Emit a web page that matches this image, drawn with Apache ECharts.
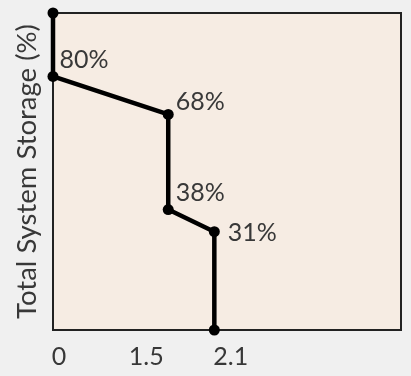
<!DOCTYPE html>
<html><head><meta charset="utf-8">
<script src="https://cdn.jsdelivr.net/npm/echarts@6/dist/echarts.min.js"></script>
<style>html,body{margin:0;padding:0;background:#f0f0f0}#c{width:411px;height:376px}</style>
</head><body><div id="c"></div>
<script>
// Data
const xValues = [0, 0, 1.5, 1.5, 2.1, 2.1];
const yValues = [100, 80, 68, 38, 31, 0];
const pointLabels = ['', '80%', '68%', '38%', '31%', ''];
const xTickValues = [0, 1.5, 2.1];
const xTickLabels = ['0', '1.5', '2.1'];
const yTitle = 'Total System Storage (%)';

// label styling (positions, not data)
const labelStyle = [
  null,
  {distance: 1, offset: [0, -16]},
  {distance: 2, offset: [0, -13]},
  {distance: 2, offset: [0, -17]},
  {distance: 8, offset: [0, 1]}
];
const tickPad = {'0': [0,0,0,12], '1.5': [0,44,0,0], '2.1': [0,0,0,33]};

const FONT = 'Lato';
const TXT = '#383838';

const data = xValues.map((x, i) => {
  const d = {value: [x, yValues[i]]};
  if (pointLabels[i]) {
    const s = labelStyle[i];
    d.label = {show: true, position: 'right', distance: s.distance, offset: s.offset,
      formatter: pointLabels[i], color: TXT, fontFamily: FONT, fontSize: 25};
  }
  return d;
});

const rich = {};
xTickLabels.forEach((t, i) => {
  rich['t' + i] = {padding: tickPad[t], color: TXT, fontFamily: FONT, fontSize: 25};
});

const chart = echarts.init(document.getElementById('c'));
chart.setOption({
  backgroundColor: '#f0f0f0',
  animation: false,
  grid: {left: 53, right: 10, top: 13, bottom: 46, show: true,
    backgroundColor: '#f6ece3', borderColor: '#222', borderWidth: 2},
  xAxis: {type: 'value', min: 0, max: 4.53,
    axisLine: {show: false}, axisTick: {show: false}, splitLine: {show: false},
    axisLabel: {customValues: xTickValues, margin: 14,
      formatter: v => { const i = xTickValues.indexOf(v); return i < 0 ? '' : '{t' + i + '|' + xTickLabels[i] + '}'; },
      rich: rich}},
  yAxis: {type: 'value', min: 0, max: 100,
    axisLine: {show: false}, axisTick: {show: false}, splitLine: {show: false},
    axisLabel: {show: false},
    name: yTitle, nameLocation: 'middle', nameGap: 12,
    nameTextStyle: {color: TXT, fontFamily: FONT, fontSize: 27.5}},
  series: [{type: 'line', data: data, clip: false,
    symbol: 'circle', symbolSize: 11,
    lineStyle: {color: '#000', width: 4.5},
    itemStyle: {color: '#000'}}]
});
</script></body></html>
